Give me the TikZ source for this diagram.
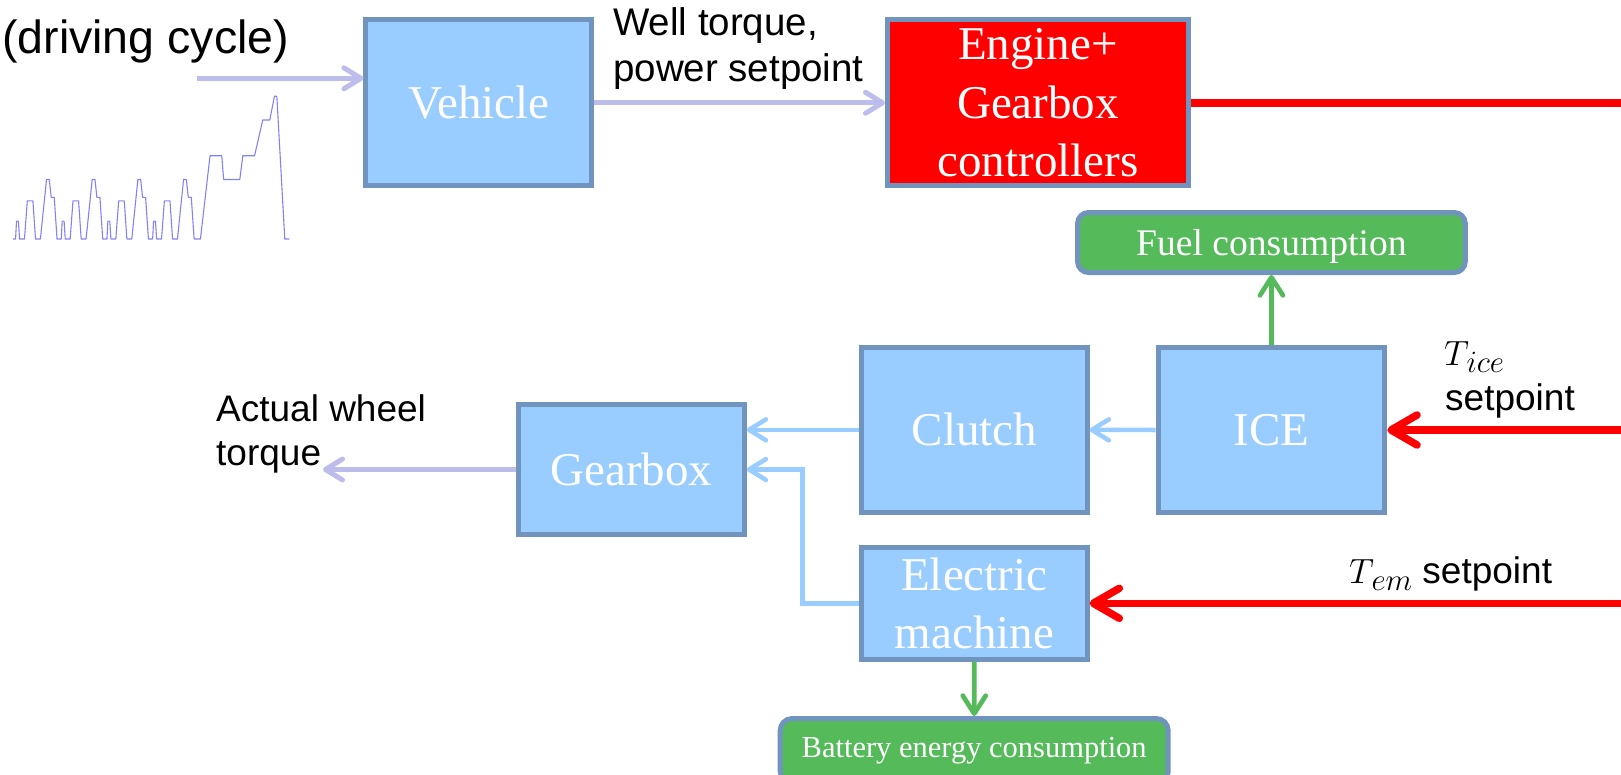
\RequirePackage{fix-cm}
\documentclass[tikz,border=0pt]{standalone}
\usepackage{fontspec}
\setmainfont{Liberation Serif}
\setsansfont{Liberation Sans}
\usetikzlibrary{arrows.meta}
\definecolor{boxblue}{RGB}{153,204,255}
\definecolor{boxedge}{RGB}{112,148,190}
\definecolor{lav}{RGB}{189,189,235}
\definecolor{grn}{RGB}{85,186,90}
\definecolor{cyc}{RGB}{130,130,245}
\newcommand{\symT}[1]{{\fontsize{35}{40}\selectfont$T$}\kern-2.5pt\raisebox{-7pt}{\fontsize{31}{34}\selectfont$#1$}}
\begin{document}
\begin{tikzpicture}[x=1pt,y=-1pt,
  blk/.style={draw=boxedge, line width=5pt, fill=boxblue, text=white, inner sep=0pt,
    font=\rmfamily\fontsize{47}{58.5}\selectfont, align=center},
  res/.style={draw=boxedge, line width=5pt, fill=grn, text=white, inner sep=0pt,
    rounded corners=11pt, font=\rmfamily\fontsize{37.6}{45}\selectfont},
  lbl/.style={inner sep=0pt, anchor=base west, text=black, font=\sffamily\fontsize{37}{43.3}\selectfont},
  lavarr/.style={draw=lav, line width=5pt, -{Straight Barb[length=17pt,width=21pt,round]}},
  lbarr/.style={draw=boxblue, line width=4.5pt, -{Straight Barb[length=17pt,width=21pt,round]}},
  grarr/.style={draw=grn, line width=4.7pt, -{Straight Barb[length=18pt,width=23pt,round]}},
  redarr/.style={draw=red, line width=7.5pt, -{Straight Barb[length=26pt,width=30pt,round]}},
  redline/.style={draw=red, line width=7.5pt},
  cycline/.style={draw=cyc, line width=1.1pt, line join=round}]
\useasboundingbox (0,0) rectangle (1621,774);

% driving cycle (NEDC)
\begin{scope}[shift={(13,239)}, x=0.2343pt, y=1.19pt]
\foreach \c in {0,195,390,585}{
  \draw[cycline] (\c,0) -- ({\c+11},0) -- ({\c+15},15) -- ({\c+23},15) -- ({\c+28},0)
    -- ({\c+49},0) -- ({\c+61},32) -- ({\c+85},32) -- ({\c+96},0) -- ({\c+117},0)
    -- ({\c+143},50) -- ({\c+155},50) -- ({\c+163},35) -- ({\c+176},35) -- ({\c+188},0) -- ({\c+195},0);
}
\draw[cycline] (780,0) -- (800,0) -- (841,70) -- (891,70) -- (899,50) -- (968,50) -- (981,70)
  -- (1031,70) -- (1066,100) -- (1096,100) -- (1116,120) -- (1126,120) -- (1160,0) -- (1180,0);
\end{scope}

% blocks
\node[blk, minimum width=226pt, minimum height=166pt] (vehicle) at (478.9,102.8) {Vehicle};
\node[blk, fill=red, minimum width=301pt, minimum height=166pt] (engine) at (1038,102.8) {Engine+\\Gearbox\\controllers};
\node[res, text depth=0pt, minimum width=387.7pt, minimum height=60pt] (fuel) at (1271.4,242.5) {Fuel consumption};
\node[blk, minimum width=225.5pt, minimum height=164.5pt] (clutch) at (974.3,429.8) {Clutch};
\node[blk, minimum width=226.6pt, minimum height=165pt] (ice) at (1271.5,430) {ICE};
\node[blk, minimum width=225.7pt, minimum height=130.6pt] (gearbox) at (631.4,469.5) {Gearbox};
\node[blk, minimum width=225.5pt, minimum height=111.7pt] (em) at (974.3,603.3) {Electric\\machine};
\node[res, rounded corners=12pt, minimum width=388pt, minimum height=65pt,
  font=\rmfamily\fontsize{30.5}{36}\selectfont] (battery) at (974.2,751) {Battery energy consumption};

% labels
\node[lbl, font=\sffamily\fontsize{46.5}{55}\selectfont] (dcycle) at (2,53.3) {(driving cycle)};
\node[lbl, font=\sffamily\fontsize{38.5}{46.7}\selectfont] (wtorque) at (613,35)
  {\begin{tabular}[t]{@{}l@{}}Well torque,\\power setpoint\end{tabular}};
\node[lbl] (awt) at (216,421.7)
  {\begin{tabular}[t]{@{}l@{}}Actual wheel\\torque\end{tabular}};
\node[lbl] (tice) at (1444,365) {\symT{ice}};
\node[lbl] (tices) at (1445,410) {setpoint};
\node[lbl] (tem) at (1349,583) {\symT{em} setpoint};

% free ends
\coordinate (cin) at (197.3,78.3);
\coordinate (cout) at (323,469.5);
\coordinate (eR) at (1621,102.8);
\coordinate (iR) at (1621,430);
\coordinate (mR) at (1621,603.3);
\coordinate (bend) at (802.7,469.5);

% connectors
\draw[lavarr] (cin) -- (cin -| vehicle.west);
\draw[lavarr] (vehicle.east) -- (engine.west);
\draw[redline] (engine.east) -- (eR);
\draw[grarr] (ice.north) -- (fuel.south);
\draw[lbarr] (ice.west) -- (clutch.east);
\draw[lbarr] (clutch.west) -- (clutch.west -| gearbox.east);
\draw[lbarr] (em.west) -| (bend) -- (gearbox.east);
\draw[lavarr] (gearbox.west) -- (cout);
\draw[redarr] (iR) -- (ice.east);
\draw[redarr] (mR) -- (em.east);
\draw[grarr] (em.south) -- (battery.north);
\end{tikzpicture}
\end{document}
